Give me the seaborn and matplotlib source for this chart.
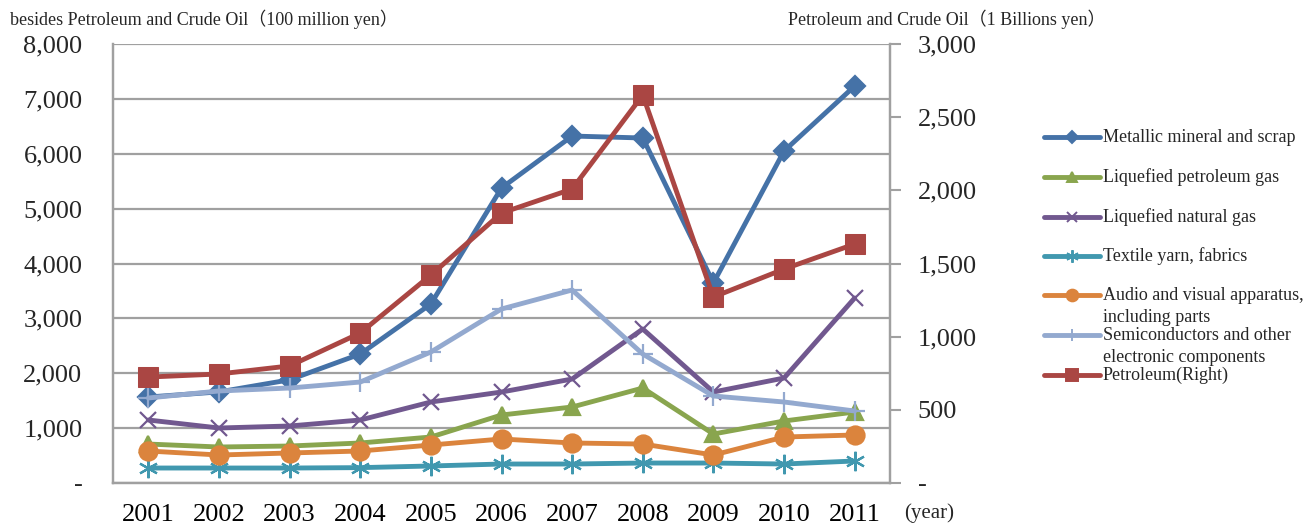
import matplotlib
matplotlib.use("Agg")
import matplotlib.pyplot as plt
import seaborn as sns
import numpy as np
from matplotlib.lines import Line2D

years = ["2001", "2002", "2003", "2004", "2005", "2006", "2007", "2008", "2009", "2010", "2011"]
metallic = [1567, 1660, 1880, 2350, 3262, 5376, 6323, 6287, 3645, 6050, 7234]
lpg = [710, 656, 674, 729, 838, 1239, 1385, 1731, 893, 1130, 1294]
lng = [1148, 1002, 1039, 1148, 1476, 1658, 1895, 2806, 1658, 1913, 3371]
textile = [273, 273, 273, 280, 310, 346, 346, 364, 364, 346, 401]
audio = [583, 510, 547, 583, 692, 802, 729, 710, 510, 838, 875]
semis = [1549, 1677, 1731, 1840, 2387, 3171, 3517, 2350, 1585, 1476, 1312]
petroleum = [724, 745, 800, 1025, 1421, 1845, 2009, 2651, 1271, 1462, 1633]

left_ticks = [0, 1000, 2000, 3000, 4000, 5000, 6000, 7000, 8000]
left_labels = ["-", "1,000", "2,000", "3,000", "4,000", "5,000", "6,000", "7,000", "8,000"]
right_ticks = [0, 500, 1000, 1500, 2000, 2500, 3000]
right_labels = ["-", "500", "1,000", "1,500", "2,000", "2,500", "3,000"]

names = ["Metallic mineral and scrap", "Liquefied petroleum gas", "Liquefied natural gas",
         "Textile yarn, fabrics", "Audio and visual apparatus,\nincluding parts",
         "Semiconductors and other\nelectronic components", "Petroleum(Right)"]

sns.set_theme(style="white")
FAM = ["Liberation Serif", "Noto Sans CJK JP", "DejaVu Sans"]
plt.rcParams["font.family"] = FAM

W, H = 1312, 525
fig = plt.figure(figsize=(13.12, 5.25), dpi=100)
ax = fig.add_axes([113/W, 1-483/H, (890-113)/W, (483-44)/H])
ax2 = ax.twinx()

x = np.arange(len(years))
series = [
    (metallic, "#4572A7", "D", 10),
    (lpg, "#89A54E", "^", 12),
    (lng, "#71588F", "x", 12),
    (textile, "#4198AF", (6, 2, 0), 14),
    (audio, "#DB843D", "o", 13),
    (semis, "#93A9CF", "+", 14),
]
grid_c = "#A0A0A0"
ax.set_facecolor("white")
for v in left_ticks:
    ax.axhline(v, color=grid_c, lw=1.6, zorder=0)

styles = []
for vals, col, mk, ms in series:
    sns.lineplot(x=x, y=vals, ax=ax, color=col, marker=mk, markersize=ms, linewidth=3.5,
                 markeredgecolor=col, markeredgewidth=1.6, zorder=3)
    styles.append((col, mk, ms * 0.65))
sns.lineplot(x=x, y=petroleum, ax=ax2, color="#AA4643", marker="s", markersize=14, linewidth=3.5,
             markeredgecolor="#AA4643", zorder=3)
styles.append(("#AA4643", "s", 9))

ax.set_xlim(-0.5, 10.5)
ax.set_ylim(0, 8000)
ax2.set_ylim(0, 3000)
ax.set_xticks(x)
ax.set_xticklabels(years, fontsize=19, family=FAM)
ax.set_yticks(left_ticks)
ax.set_yticklabels(left_labels, fontsize=19, family=FAM)
ax2.set_yticks(right_ticks)
ax2.set_yticklabels(right_labels, fontsize=19, family=FAM)
ax.tick_params(axis="x", length=0, pad=15, colors="black")
ax.tick_params(axis="y", length=0, pad=22, left=True)
ax2.tick_params(axis="y", length=8, width=1.5, color=grid_c, pad=12, direction="out", right=True)
for a in (ax, ax2):
    for s in a.spines.values():
        s.set_color(grid_c)
        s.set_linewidth(1.6)
    a.spines["top"].set_visible(False)
ax.grid(False)
ax2.grid(False)

fig.text(10/W, 1-19/H, "besides Petroleum and Crude Oil（100 million yen）", fontsize=13,
         family=FAM, va="center", ha="left")
fig.text(788/W, 1-19/H, "Petroleum and Crude Oil（1 Billions yen）", fontsize=13,
         family=FAM, va="center", ha="left")
fig.text(904/W, 1-513/H, "(year)", fontsize=15, family=FAM, va="center", ha="left")

# legend (manual layout to mirror the reference spacing)
leg_y = [137, 177, 217, 256, 295, 335, 375]
for (col, mk, ms), nm, yy in zip(styles, names, leg_y):
    yf = 1 - yy / H
    fig.add_artist(Line2D([1044/W, 1100/W], [yf, yf], transform=fig.transFigure,
                          color=col, lw=3.5))
    fig.add_artist(Line2D([1072/W], [yf], transform=fig.transFigure, color=col, marker=mk,
                          markersize=ms, markeredgecolor=col, markeredgewidth=1.4, lw=0))
    for i, line in enumerate(nm.split("\n")):
        fig.text(1103/W, 1 - (yy + 22 * i) / H, line, fontsize=13, family=FAM,
                 va="center", ha="left")

fig.savefig("out.png", dpi=100, facecolor="white")
